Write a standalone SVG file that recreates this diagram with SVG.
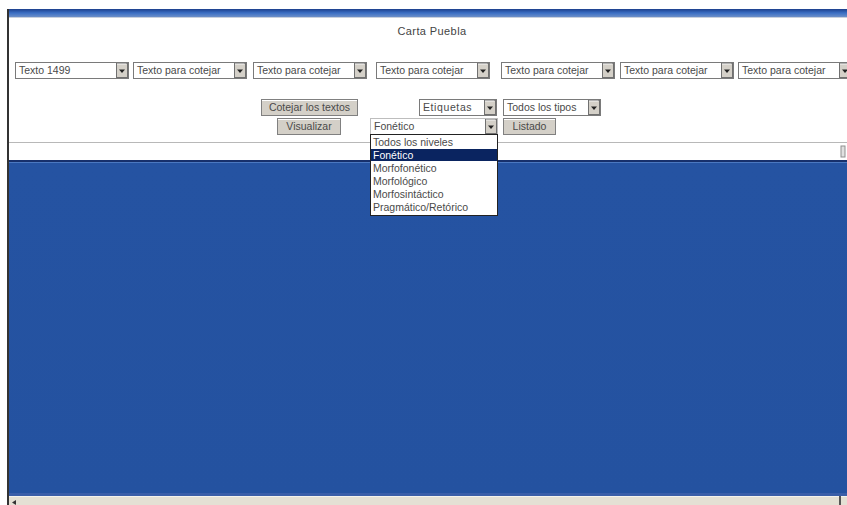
<svg xmlns="http://www.w3.org/2000/svg" width="847" height="505" viewBox="0 0 847 505">
<defs>
<linearGradient id="tb" x1="0" y1="0" x2="0" y2="1">
<stop offset="0" stop-color="#1c3f8c"/><stop offset="0.5" stop-color="#3b6fc4"/><stop offset="1" stop-color="#6d8fc8"/>
</linearGradient>
<linearGradient id="blue" x1="0" y1="0" x2="0" y2="1">
<stop offset="0" stop-color="#2553a2"/><stop offset="1" stop-color="#2452a0"/>
</linearGradient>
<g id="arrow">
<rect x="0" y="0" width="11" height="14" fill="#d4d0c8" stroke="#707070" stroke-width="1"/>
<line x1="0.5" y1="0.5" x2="10" y2="0.5" stroke="#f4f4f4"/>
<path d="M2.5,6 L8.5,6 L5.5,9.5 Z" fill="#222"/>
</g>
</defs>
<style>
text{font-family:"Liberation Sans",Arial,sans-serif;font-size:10.5px;fill:#4a4a4a}
.box{fill:#fff;stroke:#7a7a7a;stroke-width:1}
.btn{fill:#d4d0c8;stroke:#808080;stroke-width:1}
.hl{stroke:#fff;stroke-width:1;fill:none}
</style>
<rect width="847" height="505" fill="#fff"/>
<g id="window">
<rect x="9" y="9" width="838" height="8" fill="url(#tb)"/>
<line x1="9" y1="17.5" x2="847" y2="17.5" stroke="#c8d0dc"/>
<rect x="7" y="9" width="2" height="496" fill="#333"/>
<line x1="9" y1="142.5" x2="847" y2="142.5" stroke="#b8b8b8"/>
<rect x="9" y="160" width="838" height="337" fill="url(#blue)"/>
<rect x="9" y="160" width="838" height="2" fill="#17306c"/>
<rect x="9" y="162" width="838" height="1" fill="#4b78c0"/>
<rect x="9" y="493" width="838" height="3" fill="#3a5ea8"/>
<rect x="9" y="496" width="838" height="9" fill="#e4e0d4"/>
<line x1="9" y1="496.5" x2="847" y2="496.5" stroke="#f4f2ec"/>
<path d="M16,500 L12,502.5 L16,505 Z" fill="#333"/>
<rect x="839" y="496" width="2" height="9" fill="#555"/>
<rect x="841" y="146" width="4" height="11" fill="#e0e0e0" stroke="#909090" stroke-width="1"/>
</g>
<g id="title"><text x="432" y="35" text-anchor="middle" style="font-size:11px;fill:#444;letter-spacing:0.4px">Carta Puebla</text></g>
<g id="select-texto1499"><rect class="box" x="15.5" y="62.5" width="113" height="16"/><use href="#arrow" x="116.5" y="63.5"/><text x="19" y="74">Texto 1499</text></g>
<g id="select-2"><rect class="box" x="133.5" y="62.5" width="113" height="16"/><use href="#arrow" x="234.5" y="63.5"/><text x="137" y="74">Texto para cotejar</text></g>
<g id="select-3"><rect class="box" x="253.5" y="62.5" width="113" height="16"/><use href="#arrow" x="354.5" y="63.5"/><text x="257" y="74">Texto para cotejar</text></g>
<g id="select-4"><rect class="box" x="376.5" y="62.5" width="113" height="16"/><use href="#arrow" x="477.5" y="63.5"/><text x="380" y="74">Texto para cotejar</text></g>
<g id="select-5"><rect class="box" x="501.5" y="62.5" width="113" height="16"/><use href="#arrow" x="602.5" y="63.5"/><text x="505" y="74">Texto para cotejar</text></g>
<g id="select-6"><rect class="box" x="620.5" y="62.5" width="113" height="16"/><use href="#arrow" x="721.5" y="63.5"/><text x="624" y="74">Texto para cotejar</text></g>
<g id="select-7"><rect class="box" x="738.5" y="62.5" width="113" height="16"/><use href="#arrow" x="839.5" y="63.5"/><text x="742" y="74">Texto para cotejar</text></g>
<g id="btn-cotejar"><rect class="btn" x="261.5" y="99.5" width="96" height="16"/><line class="hl" x1="262" y1="100.5" x2="357" y2="100.5"/><text x="309.5" y="111" text-anchor="middle">Cotejar los textos</text></g>
<g id="select-etiquetas"><rect class="box" x="419.5" y="99.5" width="77" height="16"/><use href="#arrow" x="484.5" y="100.5"/><text x="423" y="111" style="letter-spacing:0.6px">Etiquetas</text></g>
<g id="select-tipos"><rect class="box" x="503.5" y="99.5" width="97" height="16"/><use href="#arrow" x="588.5" y="100.5"/><text x="507" y="111">Todos los tipos</text></g>
<g id="btn-visualizar"><rect class="btn" x="277.5" y="118.5" width="63" height="16"/><line class="hl" x1="278" y1="119.5" x2="340" y2="119.5"/><text x="309" y="130" text-anchor="middle">Visualizar</text></g>
<g id="select-nivel"><rect class="box" x="370.5" y="118.5" width="127" height="16" stroke-dasharray="1 1"/><use href="#arrow" x="485.5" y="119.5"/><text x="374" y="130">Fonético</text></g>
<g id="btn-listado"><rect class="btn" x="503.5" y="118.5" width="52" height="16"/><line class="hl" x1="504" y1="119.5" x2="555" y2="119.5"/><text x="529.5" y="130" text-anchor="middle">Listado</text></g>
<g id="dropdown-list">
<rect x="370.5" y="134.5" width="127" height="81" fill="#fff" stroke="#222"/>
<text x="373" y="146">Todos los niveles</text>
<rect x="371" y="149" width="126" height="12" fill="#0a2460"/>
<text x="373" y="159" style="fill:#fff">Fonético</text>
<text x="373" y="172">Morfofonético</text>
<text x="373" y="185">Morfológico</text>
<text x="373" y="198">Morfosintáctico</text>
<text x="373" y="211">Pragmático/Retórico</text>
</g>
</svg>
